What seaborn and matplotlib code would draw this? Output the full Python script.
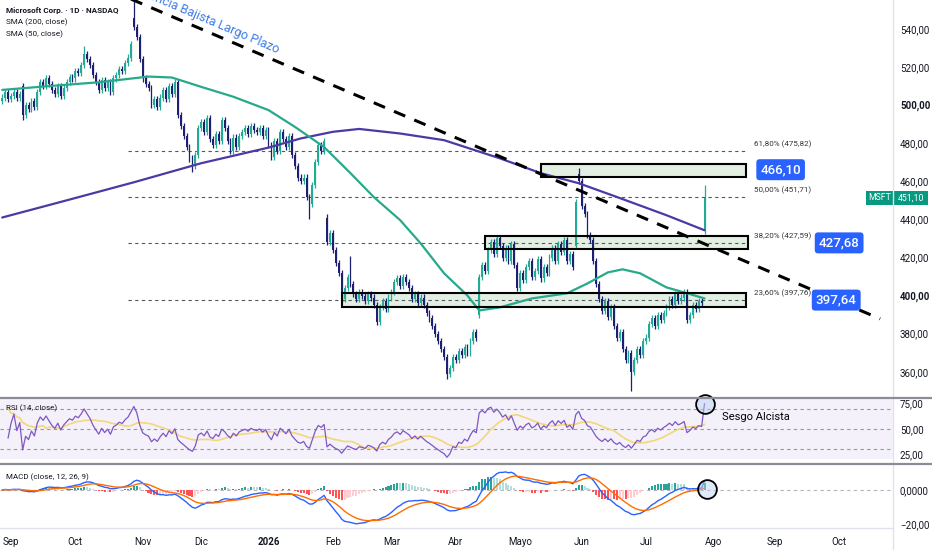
import numpy as np
import pandas as pd
import matplotlib
matplotlib.use('Agg')
import matplotlib.pyplot as plt
from matplotlib.patches import Rectangle
from matplotlib.lines import Line2D
import seaborn as sns

# ── Style ───────────────────────────────────────────────────
sns.set_style('white')
plt.rcParams['font.family'] = ['Roboto', 'DejaVu Sans']

UP       = '#22ab94'
DOWN     = '#1d1f73'
SMA200_C = '#4b3aa6'
SMA50_C  = '#27a98b'
BLUE     = '#2962ff'
TAG      = '#089981'
TXT      = '#131722'
GRID     = '#e0e3eb'

W, H = 932, 550

# ── Data (daily closes, MSFT, from 2025-08-27) ──────────────
closes = [
    504, 507, 503, 505, 507, 504, 506, 495, 500, 498,
    502, 499, 507, 512, 510, 514, 511, 508, 506, 510,
    505, 509, 512, 515, 514, 518, 517, 521, 527, 524,
    521, 516, 512, 508, 513, 509, 512, 507, 514, 516,
    519, 518, 522, 525, 532, 541, 536, 524, 514, 511,
    509, 500, 503, 499, 504, 508, 503, 510, 506, 512,
    495, 489, 484, 478, 472, 468, 474, 488, 491, 486,
    493, 482, 479, 485, 481, 492, 488, 481, 476, 483,
    478, 484, 486, 488, 485, 489, 487, 486, 488, 484,
    487, 479, 473, 481, 476, 486, 482, 478, 484, 474,
    468, 462, 460, 462, 452, 448, 458, 470, 479, 476,
    481, 428, 433, 424, 417, 412, 398, 404, 410, 406,
    401, 398, 402, 400, 397, 401, 399, 395, 386, 394,
    397, 393, 399, 402, 407, 409, 405, 410, 407, 404,
    398, 401, 396, 399, 395, 391, 388, 384, 380, 376,
    372, 368, 359, 362, 368, 366, 371, 369, 373, 370,
    376, 381, 378, 410, 416, 413, 424, 428, 422, 430,
    426, 420, 425, 418, 427, 416, 404, 412, 408, 415,
    418, 410, 413, 419, 409, 415, 412, 420, 425, 418,
    427, 423, 429, 418, 422, 415, 449, 460, 447, 443,
    432, 429, 418, 406, 398, 392, 397, 389, 394, 384,
    378, 381, 372, 366, 370, 360, 366, 372, 369, 376,
    378, 385, 388, 384, 390, 387, 391, 394, 398, 395,
    401, 397, 399, 402, 387, 390, 395, 393, 397, 396,
    451.10,
]
first_open = 502
gap_open  = {7: 510, 45: 546, 111: 441, 163: 390, 196: 426, 197: 464, 240: 434}
high_wick = {28: 531, 45: 555, 119: 421, 197: 467, 240: 458}
low_wick  = {7: 492, 65: 465, 105: 440, 152: 356, 215: 350}

# moving averages (bar number, value)
sma200_bar = [0, 22, 45, 68, 91, 102, 113, 122, 136, 151, 170, 184, 197, 210, 227, 240]
sma200_val = [441, 450, 459.5, 469.5, 477.7, 482.5, 486, 487.5, 485.1, 481.6,
              472.1, 464.3, 459, 451.8, 442.2, 434.3]
sma50_bar = [0, 16, 33, 50, 58, 68, 79, 91, 100, 110, 119, 127, 136, 143, 151,
             159, 163, 170, 181, 193, 200, 207, 212, 218, 227, 233, 240]
sma50_val = [508, 510, 512, 515, 514.5, 509.6, 504.4, 497.4, 488.6, 478, 464.3,
             451.7, 439.6, 427.4, 411.7, 400, 392.2, 393.8, 398.5, 401.2, 406.4,
             412.2, 413.8, 411.7, 404.3, 401.7, 398.5]

fib_pct   = ['61,80%', '50,00%', '38,20%', '23,60%']
fib_level = [475.82, 451.71, 427.59, 397.76]
fib_span  = ['2025-10-27', '2026-08-19']

zone_lo    = [462.2, 424.3, 393.8]
zone_hi    = [469.0, 431.1, 401.2]
zone_start = ['2026-05-12', '2026-04-15', '2026-02-05']
zone_end   = ['2026-08-18', '2026-08-19', '2026-08-18']
zone_tag   = ['466,10', '427,68', '397,64']
zone_price = [466.10, 427.68, 397.64]
zone_tag_day = ['2026-09-03', '2026-10-01', '2026-09-30']

trend_days  = ['2025-10-28', '2026-10-21']
trend_price = [555.7, 387.8]

month_labels = ['Sep', 'Oct', 'Nov', 'Dic', '2026', 'Feb', 'Mar', 'Abr',
                'Mayo', 'Jun', 'Jul', 'Ago', 'Sep', 'Oct']

# ── Derived series ──────────────────────────────────────────
all_days = pd.bdate_range('2025-08-27', '2026-10-30')
pos = pd.Series(np.arange(len(all_days)), index=all_days)
def bar(d):
    return pos[pd.Timestamp(d)]

def comma(v, nd=2):
    return f'{v:.{nd}f}'.replace('.', ',')

n = len(closes)
idx = np.arange(n)
opens = [first_open] + closes[:-1]
for k, v in gap_open.items():
    opens[k] = v
WICK = 1.6
highs = [max(o, c) + WICK for o, c in zip(opens, closes)]
lows  = [min(o, c) - WICK for o, c in zip(opens, closes)]
for k, v in high_wick.items():
    highs[k] = v
for k, v in low_wick.items():
    lows[k] = v
cols = [UP if c >= o else DOWN for o, c in zip(opens, closes)]

s = pd.Series(closes, dtype=float)
d = s.diff()
gain = d.clip(lower=0).ewm(alpha=1/14, adjust=True).mean()
loss = (-d.clip(upper=0)).ewm(alpha=1/14, adjust=True).mean()
rsi = 100 - 100 / (1 + gain / loss)
rsi_ma = rsi.rolling(14, min_periods=1).mean()

ema12 = s.ewm(span=12, adjust=False).mean()
ema26 = s.ewm(span=26, adjust=False).mean()
macd = ema12 - ema26
signal = macd.ewm(span=9, adjust=False).mean()
hist = macd - signal
hcols = []
for i, h in enumerate(hist):
    prev = hist.iloc[i - 1] if i > 0 else 0
    if h >= 0:
        hcols.append('#26a69a' if h >= prev else '#b2dfdb')
    else:
        hcols.append('#ffcdd2' if h >= prev else '#ff5252')

month_pos = pos.groupby([all_days.year, all_days.month]).first().values[1:]

# ── Layout ──────────────────────────────────────────────────
def fx(x): return x / W
def fy(y): return 1 - y / H

fig = plt.figure(figsize=(W / 100, H / 100), dpi=100, facecolor='white')
PR = 893
ax_p = fig.add_axes([0, fy(397.5), fx(PR), 397.5 / H])
ax_r = fig.add_axes([0, fy(464), fx(PR), (464 - 398.5) / H])
ax_m = fig.add_axes([0, fy(528.3), fx(PR), (528.3 - 465) / H])

XL = (-0.75, 304.4)
for ax in (ax_p, ax_r, ax_m):
    ax.set_xlim(*XL)
    ax.set_facecolor('white')
    for sp in ax.spines.values():
        sp.set_visible(False)
    ax.yaxis.tick_right()
    ax.tick_params(axis='y', length=0, pad=5, labelsize=7, labelcolor=TXT)
    ax.tick_params(axis='x', length=0)
    ax.set_xticks([])

# ── Price panel ─────────────────────────────────────────────
ax_p.set_ylim(346.5, 555.2)
pt = [360, 380, 400, 420, 440, 460, 480, 500, 520, 540]
ax_p.set_yticks(pt)
ax_p.set_yticklabels([comma(v) for v in pt])
for lab, v in zip(ax_p.get_yticklabels(), pt):
    if v in (400, 500):
        lab.set_fontweight('bold')

# zones (fill under candles, frame above)
for lo, hi, a, b in zip(zone_lo, zone_hi, zone_start, zone_end):
    x0, x1 = bar(a), bar(b)
    ax_p.add_patch(Rectangle((x0, lo), x1 - x0, hi - lo, fc='#e3efe3',
                             ec='none', zorder=1))
    ax_p.add_patch(Rectangle((x0, lo), x1 - x0, hi - lo, fc='none',
                             ec='black', lw=1.5, zorder=6))

# fibonacci levels
f0, f1 = bar(fib_span[0]), bar(fib_span[1])
ax_p.hlines(fib_level, f0, f1, colors='#555860', lw=0.8,
            linestyles=(0, (3, 3)), zorder=2)
for p, lv in zip(fib_pct, fib_level):
    ax_p.text(f1 + 2, lv + 1.6, f'{p} ({comma(lv)})',
              fontsize=5.8, color='#333', va='bottom', ha='left', zorder=7)

# candles
ax_p.vlines(idx, lows, highs, colors=cols, lw=0.9, zorder=3)
bodies = [max(abs(c - o), 0.5) for o, c in zip(opens, closes)]
ax_p.bar(idx, bodies, bottom=[min(o, c) for o, c in zip(opens, closes)],
         width=0.62, color=cols, lw=0, zorder=4)

# moving averages
sns.lineplot(x=sma200_bar, y=sma200_val, ax=ax_p, color=SMA200_C, lw=1.6, zorder=5)
sns.lineplot(x=sma50_bar, y=sma50_val, ax=ax_p, color=SMA50_C, lw=1.6, zorder=5)
ax_p.set_xlabel('')
ax_p.set_ylabel('')

# long term bearish trend line
tx = [bar(t) for t in trend_days]
ax_p.plot(tx, trend_price, color='black', lw=2.2, ls=(0, (4, 3.2)), zorder=6)
ax_p.text(93.9, 527.0, 'Tendencia Bajista Largo Plazo', color='#3d7bea',
          fontsize=9.0, rotation=-23.1, rotation_mode='anchor',
          ha='right', va='baseline', zorder=7)

# price tags on the zones
for t, p, dd in zip(zone_tag, zone_price, zone_tag_day):
    ax_p.text(bar(dd), p, t, color='white', fontsize=9.6, fontweight='medium',
              ha='center', va='center', zorder=8,
              bbox=dict(boxstyle='round,pad=0.3,rounding_size=0.25',
                        fc=BLUE, ec='none'))

# header
ax_p.text(6 / PR, 1 - 10 / 397.5, 'Microsoft Corp. · 1D · NASDAQ',
          transform=ax_p.transAxes, fontsize=5.9, fontweight='bold',
          color=TXT, va='center')
ax_p.text(6 / PR, 1 - 22 / 397.5, 'SMA (200, close)', transform=ax_p.transAxes,
          fontsize=5.9, color=TXT, va='center')
ax_p.text(6 / PR, 1 - 34 / 397.5, 'SMA (50, close)', transform=ax_p.transAxes,
          fontsize=5.9, color=TXT, va='center')

# ── RSI panel ───────────────────────────────────────────────
ax_r.set_ylim(15.7, 79.8)
ax_r.axhspan(21, 100, color='#7e57c2', alpha=0.08, lw=0, zorder=0)
for lv in (70, 50, 30):
    ax_r.axhline(lv, color='#9598a1', lw=0.8, ls=(0, (3, 3)), zorder=1)
sns.lineplot(x=idx[2:], y=rsi_ma.values[2:], ax=ax_r, color='#f3d77a', lw=1.2, zorder=2)
sns.lineplot(x=idx[2:], y=rsi.values[2:], ax=ax_r, color='#7e57c2', lw=0.9, zorder=3)
ax_r.set_xlabel('')
ax_r.set_ylabel('')
ax_r.set_yticks([25, 50, 75])
ax_r.set_yticklabels(['25,00', '50,00', '75,00'])
ax_r.text(6 / PR, 1 - 10 / 65.5, 'RSI (14, close)', transform=ax_r.transAxes,
          fontsize=5.8, color=TXT, va='center')
ax_r.plot([idx[-1] + 0.2], [rsi.iloc[-1]], marker='o', ms=13.5,
          mfc=(0.72, 0.82, 0.95, 0.45), mec='black', mew=1.3, zorder=6,
          clip_on=False)
ax_r.text(246, 62, 'Sesgo Alcista', fontsize=8.0, color='black',
          ha='left', va='center')

# ── MACD panel ──────────────────────────────────────────────
ax_m.set_ylim(-22.5, 14.6)
ax_m.axhline(0, color='#b2b5be', lw=0.8, ls=(0, (3, 3)), zorder=1)
ax_m.bar(idx, hist.values, width=0.7, color=hcols, lw=0, zorder=2)
sns.lineplot(x=idx, y=macd.values, ax=ax_m, color='#2962ff', lw=1.0, zorder=3)
sns.lineplot(x=idx, y=signal.values, ax=ax_m, color='#ff6d00', lw=1.0, zorder=3)
ax_m.set_xlabel('')
ax_m.set_ylabel('')
ax_m.set_yticks([-20, 0])
ax_m.set_yticklabels(['\u221220,00', '0,0000'])
ax_m.text(6 / PR, 1 - 12 / 63.3, 'MACD (close, 12, 26, 9)',
          transform=ax_m.transAxes, fontsize=5.8, color=TXT, va='center')
ax_m.plot([idx[-1] + 0.9], [0.3], marker='o', ms=13.5,
          mfc=(0.72, 0.82, 0.95, 0.45), mec='black', mew=1.3, zorder=6,
          clip_on=False)

ax_m.set_xticks(month_pos)
ax_m.set_xticklabels(month_labels, fontsize=7, color=TXT)
ax_m.tick_params(axis='x', pad=6)
for lab in ax_m.get_xticklabels():
    if lab.get_text() == '2026':
        lab.set_fontweight('bold')

# ── Frame lines and last price tag ──────────────────────────
fig.add_artist(Line2D([fx(PR), fx(PR)], [0, 1], color=GRID, lw=1,
                      transform=fig.transFigure))
fig.add_artist(Line2D([0, fx(PR)], [fy(528.3)] * 2, color=GRID, lw=1,
                      transform=fig.transFigure))
for yy in (397.8, 464.3):
    fig.add_artist(Line2D([0, 1], [fy(yy)] * 2, color='#8a8d96', lw=1.6,
                          transform=fig.transFigure))

tag_y = 198
for x0, x1, t in ((866, 892.5, 'MSFT'), (893.5, 928, '451,10')):
    fig.add_artist(Rectangle((fx(x0), fy(tag_y + 7)), fx(x1 - x0), 14 / H,
                             fc=TAG, ec='none', transform=fig.transFigure))
    fig.text(fx((x0 + x1) / 2), fy(tag_y), t, color='white', fontsize=6.3,
             ha='center', va='center')

fig.savefig('out.png', dpi=100, facecolor='white')
